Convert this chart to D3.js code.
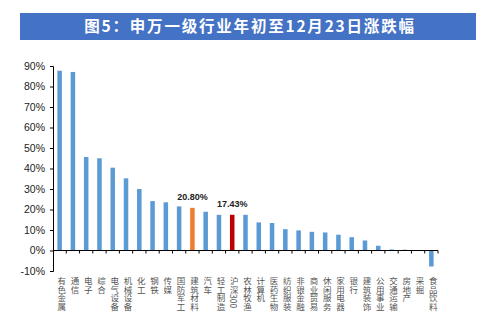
<!DOCTYPE html>
<html><head><meta charset="utf-8">
<script src="https://cdn.jsdelivr.net/npm/d3@7"></script>
<style>body{margin:0;background:#fff}svg{display:block}</style>
</head><body>
<svg id="c" width="479" height="323"></svg>
<script>
const categories = ["有色金属","通信","电子","综合","电气设备","机械设备","化工","钢铁","传媒","国防军工","建筑材料","汽车","轻工制造","沪深300","农林牧渔","计算机","医药生物","纺织服装","非银金融","商业贸易","休闲服务","家用电器","银行","建筑装饰","公用事业","交通运输","房地产","采掘","食品饮料"];
const values = [87.7,87.1,45.6,45.0,40.4,35.2,30.0,24.1,23.5,21.5,20.8,18.9,17.4,17.43,17.4,13.7,13.4,10.4,9.8,9.1,8.8,7.7,6.5,4.9,2.3,0.5,0.4,0.1,-7.8];
const yTicks = [-10,0,10,20,30,40,50,60,70,80,90];
const highlight = {"建筑材料":"#ED7D31","沪深300":"#C00000"};
const annotations = [{cat:"建筑材料", text:"20.80%"},{cat:"沪深300", text:"17.43%"}];
const title = "图5：申万一级行业年初至12月23日涨跌幅";

const svg = d3.select("#c");
// title bar
svg.append("rect").attr("x",20).attr("y",13).attr("width",456).attr("height",27).attr("fill","#4472C4");
svg.append("text").attr("x",250).attr("y",31.5).attr("text-anchor","middle")
  .attr("font-family","'Noto Sans CJK SC',sans-serif").attr("font-weight","bold")
  .attr("font-size",15.5).attr("letter-spacing",1.8).attr("fill","#fff").text(title);

const x = d3.scaleBand().domain(categories).range([53,438]).paddingInner(0.66).paddingOuter(0.33);
const y = d3.scaleLinear().domain([-10,90]).range([271,66]);

// y axis
const ya = svg.append("g").attr("transform","translate(53,0)")
  .call(d3.axisLeft(y).tickValues(yTicks).tickSize(3).tickFormat(d=>d+"%"));
ya.select(".domain").attr("stroke","#000");
ya.selectAll(".tick line").attr("stroke","#000");
ya.selectAll("text").attr("font-family","'Liberation Sans',Arial,sans-serif").attr("font-size",10.5).attr("fill","#222").attr("dx",-2);

// bars
svg.append("g").selectAll("rect").data(categories).join("rect")
  .attr("x",d=>x(d)).attr("width",x.bandwidth())
  .attr("y",(d,i)=>y(Math.max(0,values[i])))
  .attr("height",(d,i)=>Math.abs(y(values[i])-y(0)))
  .attr("fill",d=>highlight[d]||"#5B9BD5");

// x axis line + tick marks at band boundaries
const step = x.step();
svg.append("line").attr("x1",53).attr("x2",438).attr("y1",y(0)).attr("y2",y(0)).attr("stroke","#000");
const bounds = categories.map(d=>x(d)+x.bandwidth()/2+step/2);
svg.append("g").selectAll("line").data(bounds).join("line")
  .attr("x1",d=>d).attr("x2",d=>d).attr("y1",y(0)).attr("y2",y(0)+3).attr("stroke","#000");

// vertical category labels
svg.append("g").selectAll("text").data(categories).join("text")
  .attr("x",d=>x(d)+x.bandwidth()/2+2).attr("y",277)
  .style("writing-mode","vertical-rl").style("text-orientation","mixed")
  .attr("font-family","'Noto Sans CJK SC',sans-serif").attr("font-size",8.5)
  .attr("fill","#555")
  .text(d=>d);

// annotations
svg.append("g").selectAll("text").data(annotations).join("text")
  .attr("x",d=>x(d.cat)+x.bandwidth()/2).attr("y",d=>y(values[categories.indexOf(d.cat)])-8)
  .attr("text-anchor","middle").attr("font-family","'Liberation Sans',Arial,sans-serif")
  .attr("font-weight","bold").attr("font-size",9).attr("fill","#222")
  .text(d=>d.text);
</script>
</body></html>
